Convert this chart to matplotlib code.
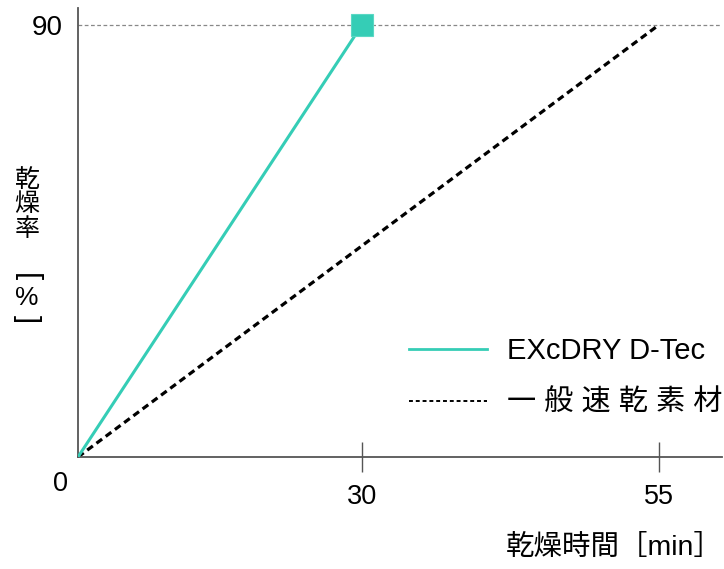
import numpy as np
import matplotlib
matplotlib.use("Agg")
import matplotlib.pyplot as plt
from matplotlib.lines import Line2D

plt.rcParams['font.family'] = ['Liberation Sans', 'Noto Sans CJK JP', 'DejaVu Sans']

# ---- data ----
series_names = ["EXcDRY D-Tec", "一 般 速 乾 素 材"]
excdry_time = [0, 30]
excdry_rate = [0, 90]
general_time = [0, 55]
general_rate = [0, 90]
x_ticks = [30, 55]
y_ticks = [90]
x_label = "乾燥時間［min］"
y_label_chars = ["乾", "燥", "率"]

# piecewise (illustrative) time axis
_src = [0, 30, 55, 100]
_dst = [0, 284, 581, 581 + 45 * 11.88]
def fwd(x):
    return np.interp(x, _src, _dst, left=-1e9, right=1e9)
def inv(x):
    return np.interp(x, _dst, _src)

GREEN = "#35CDB6"
AXC = "#555555"

fig = plt.figure(figsize=(7.24, 5.69), dpi=100)
W, H = 724, 569
ax = fig.add_axes([78 / W, 1 - 457 / H, (722 - 78) / W, (457 - 8) / H])
ax.set_xscale('function', functions=(fwd, inv))
ax.set_xlim(0, 60.3)
ax.set_ylim(0, 93.5)

ax.axhline(y_ticks[0], color="#888888", lw=0.9, ls=(0, (3, 2)), zorder=1)

ax.plot(general_time, general_rate, color="black", lw=2.3, ls=(0, (2.2, 1.4)), zorder=2)
ax.plot(excdry_time, excdry_rate, color=GREEN, lw=2.2, zorder=3)
ax.plot([excdry_time[-1]], [excdry_rate[-1]], marker='s', ms=16, color=GREEN,
        mec="#5ad8c4", mew=0.8, zorder=4, clip_on=False)

for s in ['top', 'right']:
    ax.spines[s].set_visible(False)
for s in ['left', 'bottom']:
    ax.spines[s].set_color(AXC)
    ax.spines[s].set_linewidth(1.3)

ax.set_xticks(x_ticks)
ax.set_xticklabels([str(v) for v in x_ticks])
ax.tick_params(axis='x', direction='inout', length=21.5, width=1.0, color=AXC,
               labelsize=19.5, pad=9)
ax.set_yticks(y_ticks)
ax.set_yticklabels([str(v) for v in y_ticks])
ax.tick_params(axis='y', length=0, labelsize=20, pad=11)
ax.minorticks_off()

ax.annotate("0", xy=(0, 0), xycoords='data', xytext=(-18, -27),
            textcoords='offset pixels', ha='center', va='center', fontsize=19.5,
            annotation_clip=False)

# legend
handles = [Line2D([], [], color=GREEN, lw=2.0),
           Line2D([], [], color="black", lw=1.4, ls=(0, (2.0, 1.5)))]
leg = ax.legend(handles, series_names, loc='upper right', bbox_to_anchor=(1.0, 0.267),
                frameon=False, fontsize=21, handlelength=2.65, handletextpad=0.69,
                labelspacing=0.82, borderpad=0, borderaxespad=0)

# axis labels as free text
fig.text(723 / W, 1 - 548 / H, x_label, ha='right', va='center', fontsize=20.5)
ys = [180, 204, 229]
for ch, yy in zip(y_label_chars, ys):
    fig.text(27 / W, 1 - yy / H, ch, ha='center', va='center', fontsize=18)
fig.text(27 / W, 1 - 277 / H, "[", ha='center', va='center', fontsize=21,
         rotation=-90, family='Liberation Sans')
fig.text(27 / W, 1 - 298 / H, "%", ha='center', va='center', fontsize=19)
fig.text(27 / W, 1 - 319 / H, "]", ha='center', va='center', fontsize=21,
         rotation=-90, family='Liberation Sans')

fig.savefig("out.png", dpi=100)
